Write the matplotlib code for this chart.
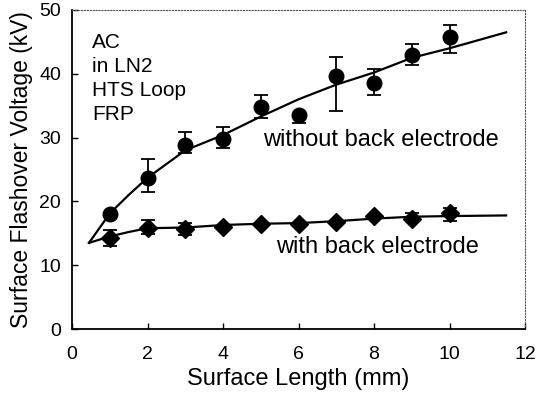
import matplotlib
matplotlib.use("Agg")
import matplotlib.pyplot as plt

plt.rcParams['font.family'] = ['Liberation Sans', 'DejaVu Sans']

# measured points
length = [1, 2, 3, 4, 5, 6, 7, 8, 9, 10]
without_v = [18.1, 23.7, 28.9, 29.8, 34.8, 33.6, 39.6, 38.6, 43.0, 45.8]
without_lo = [18.1, 21.5, 27.6, 28.3, 33.1, 32.3, 34.1, 36.6, 41.4, 43.3]
without_hi = [18.1, 26.7, 30.8, 31.7, 36.7, 33.6, 42.7, 40.8, 44.6, 47.7]
with_v = [14.3, 15.9, 15.7, 16.0, 16.5, 16.5, 16.7, 17.7, 17.3, 18.2]
with_lo = [13.0, 14.9, 14.8, 16.0, 16.5, 16.5, 16.4, 17.7, 17.3, 17.0]
with_hi = [15.5, 17.1, 16.6, 16.0, 16.5, 16.5, 17.0, 17.7, 18.2, 19.0]

# fitted curves
fit_x = [0.45, 1, 1.5, 2, 3, 4, 5, 6, 7, 8, 9, 10, 11.5]
fit_without = [13.5, 18.1, 21.0, 23.7, 28.0, 30.4, 33.3, 36.0, 38.3, 40.2, 42.5, 44.0, 46.5]
fit_with = [13.5, 14.5, 15.2, 15.8, 15.9, 16.3, 16.5, 16.6, 16.9, 17.3, 17.6, 17.7, 17.8]

fig = plt.figure(figsize=(5.38, 4.01), dpi=100)
ax = fig.add_axes([72/538, 72/401, 453/538, 319/401])

ax.plot(fit_x, fit_without, color='black', lw=1.6)
ax.plot(fit_x, fit_with, color='black', lw=1.6)

err1 = [[v - l for v, l in zip(without_v, without_lo)], [h - v for v, h in zip(without_v, without_hi)]]
err2 = [[v - l for v, l in zip(with_v, with_lo)], [h - v for v, h in zip(with_v, with_hi)]]
ax.errorbar(length, without_v, yerr=err1, fmt='o', color='black', ms=10.5,
            capsize=5, elinewidth=1.3, capthick=1.3)
ax.errorbar(length, with_v, yerr=err2, fmt='D', color='black', ms=9,
            capsize=5, elinewidth=1.3, capthick=1.3)

ax.set_xlim(0, 12)
ax.set_ylim(0, 50)
ax.set_xticks(range(0, 13, 2))
ax.set_yticks(range(0, 51, 10))
ax.tick_params(direction='in', length=4, labelsize=14, pad=12, width=1)
ax.tick_params(axis='y', pad=8)
ax.set_xlabel('Surface Length (mm)', fontsize=17, labelpad=4)
ax.set_ylabel('Surface Flashover Voltage (kV)', fontsize=16.5, labelpad=4)

for s in ['left', 'bottom']:
    ax.spines[s].set_linewidth(1.3)
for s in ['top', 'right']:
    ax.spines[s].set_linestyle(':')
    ax.spines[s].set_linewidth(0.8)
    ax.spines[s].set_color('#555555')

ax.text(0.53, 44.9, 'AC', fontsize=15, va='center')
ax.text(0.53, 41.2, 'in LN2', fontsize=15, va='center')
ax.text(0.53, 37.4, 'HTS Loop', fontsize=15, va='center')
ax.text(0.53, 33.6, 'FRP', fontsize=15, va='center')
ax.text(5.07, 29.7, 'without back electrode', fontsize=17, va='center')
ax.text(5.4, 12.9, 'with back electrode', fontsize=17, va='center')

plt.savefig('out.png', dpi=100)
